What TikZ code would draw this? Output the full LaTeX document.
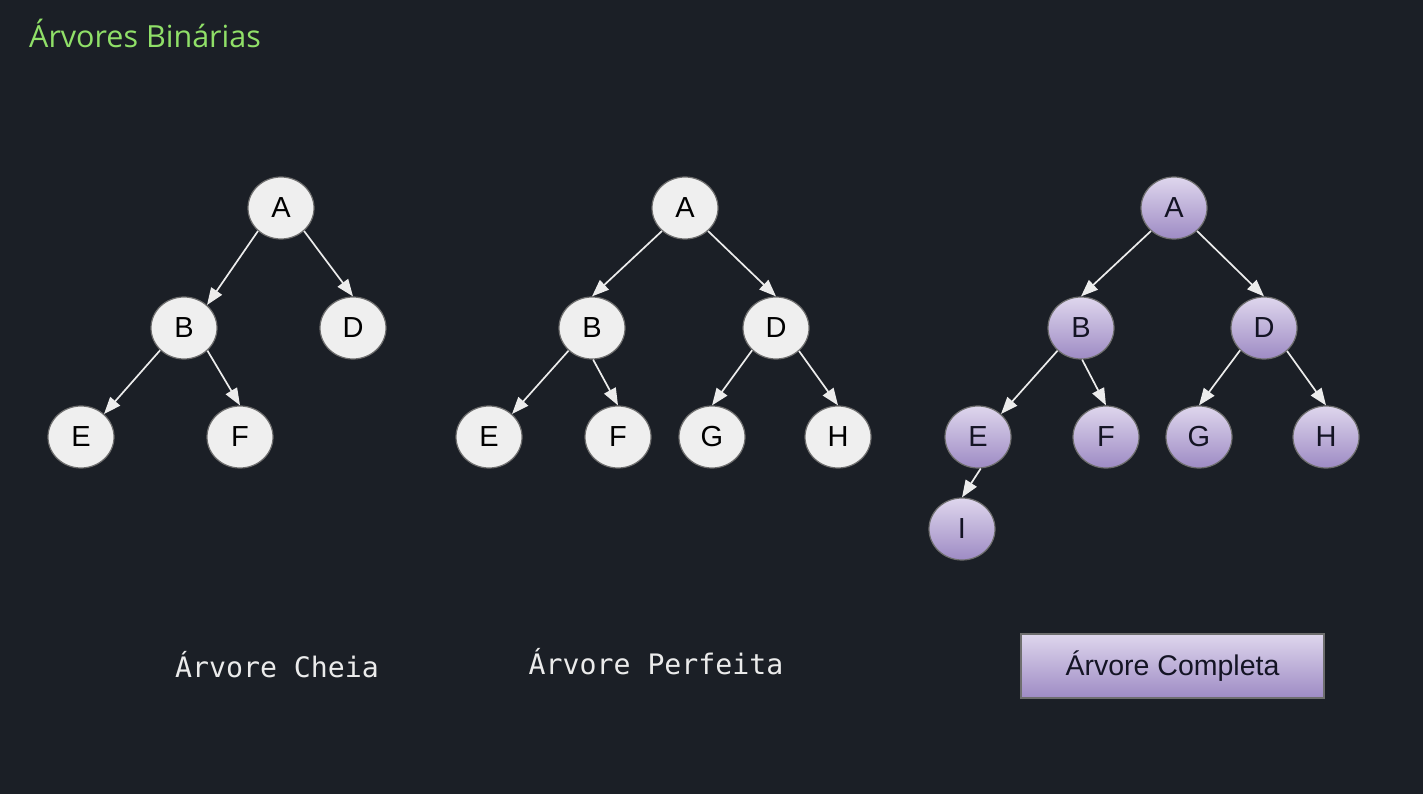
\documentclass[tikz,border=0pt]{standalone}
\usepackage{fontspec}
\setmainfont{Liberation Sans}
\newfontfamily\titlefont{Open Sans}
\newfontfamily\codefont{DejaVu Sans Mono}
\usepackage{tikz}
\usetikzlibrary{arrows.meta,shapes.geometric}

\definecolor{bgdark}{RGB}{27,31,38}
\definecolor{nodewhite}{RGB}{239,239,239}
\definecolor{nodeborder}{RGB}{110,110,110}
\definecolor{liltop}{RGB}{222,214,237}
\definecolor{lilbot}{RGB}{158,139,196}
\definecolor{edgegray}{RGB}{236,236,236}
\definecolor{titlegreen}{RGB}{144,224,104}
\definecolor{labelwhite}{RGB}{235,235,235}
\definecolor{inkdark}{RGB}{20,20,36}

\begin{document}
\begin{tikzpicture}[x=1pt,y=-1pt,->,>={Triangle[length=17pt,width=13pt]},node distance=120pt,
  white node/.style={ellipse,minimum width=66pt,minimum height=62pt,inner sep=0pt,draw=nodeborder,line width=1.2pt,fill=nodewhite,text=black,font=\fontsize{29}{29}\selectfont},
  purple node/.style={ellipse,minimum width=66pt,minimum height=62pt,inner sep=0pt,draw=nodeborder,line width=1.2pt,top color=liltop,bottom color=lilbot,text=inkdark,font=\fontsize{29}{29}\selectfont},
  rec node/.style={rectangle,minimum width=303pt,minimum height=64pt,draw=nodeborder,line width=1.5pt,top color=liltop,bottom color=lilbot,text=inkdark,font=\fontsize{28.5}{29}\selectfont},
  label node/.style={text=labelwhite,inner sep=0pt,font=\codefont\fontsize{28.2}{29}\selectfont},
  title node/.style={text=titlegreen,inner sep=0pt,font=\titlefont\fontsize{30.5}{31}\selectfont},
  arrow/.style={color=edgegray,line width=1.7pt}]

  \fill[bgdark] (0,0) rectangle (1423,794);
  \useasboundingbox (0,0) rectangle (1423,794);

  \node[title node,anchor=base west] (30) at (29,48) {Árvores Binárias};

  % arvore cheia
  \node[white node] (1) at (281,208) {A};
  \node[white node] (2) [below of=1,xshift=-97pt] {B};
  \node[white node] (3) [below of=1,xshift=72pt] {D};
  \node[white node] (4) [below of=2,xshift=-103pt,yshift=11pt] {E};
  \node[white node] (5) [below of=2,xshift=56pt,yshift=11pt] {F};

  % arvore perfeita
  \node[white node] (11) at (685,208) {A};
  \node[white node] (12) [below of=11,xshift=-93pt] {B};
  \node[white node] (13) [below of=11,xshift=91pt] {D};
  \node[white node] (14) [below of=12,xshift=-103pt,yshift=11pt] {E};
  \node[white node] (15) [below of=12,xshift=26pt,yshift=11pt] {F};
  \node[white node] (16) [below of=13,xshift=-64pt,yshift=11pt] {G};
  \node[white node] (17) [below of=13,xshift=62pt,yshift=11pt] {H};

  % arvore completa
  \node[purple node] (21) at (1174,208) {A};
  \node[purple node] (22) [below of=21,xshift=-93pt] {B};
  \node[purple node] (23) [below of=21,xshift=90pt] {D};
  \node[purple node] (24) [below of=22,xshift=-103pt,yshift=11pt] {E};
  \node[purple node] (25) [below of=22,xshift=25pt,yshift=11pt] {F};
  \node[purple node] (26) [below of=23,xshift=-65pt,yshift=11pt] {G};
  \node[purple node] (27) [below of=23,xshift=62pt,yshift=11pt] {H};
  \node[purple node] (28) [below of=24,xshift=-16pt,yshift=28pt] {I};

  \node[label node,anchor=base] (31) at (277,677) {Árvore Cheia};
  \node[label node,anchor=base] (32) at (656,674) {Árvore Perfeita};
  \node[rec node] (33) at (1172.5,666) {Árvore Completa};

  \path[arrow]
    (1.-135) edge (2.45)
    (1.-45) edge (3.90)
    (2.-137) edge (4.45)
    (2.-44) edge (5.90);

  \path[arrow]
    (11.-135) edge (12.90)
    (11.-45) edge (13.90)
    (12.-136) edge (14.45)
    (12.-88) edge (15.90)
    (13.-137) edge (16.90)
    (13.-45) edge (17.90);

  \path[arrow]
    (21.-135) edge (22.90)
    (21.-45) edge (23.90)
    (22.-136) edge (24.45)
    (22.-88) edge (25.90)
    (23.-137) edge (26.90)
    (23.-45) edge (27.90)
    (24.-85) edge (28.90);
\end{tikzpicture}
\end{document}
